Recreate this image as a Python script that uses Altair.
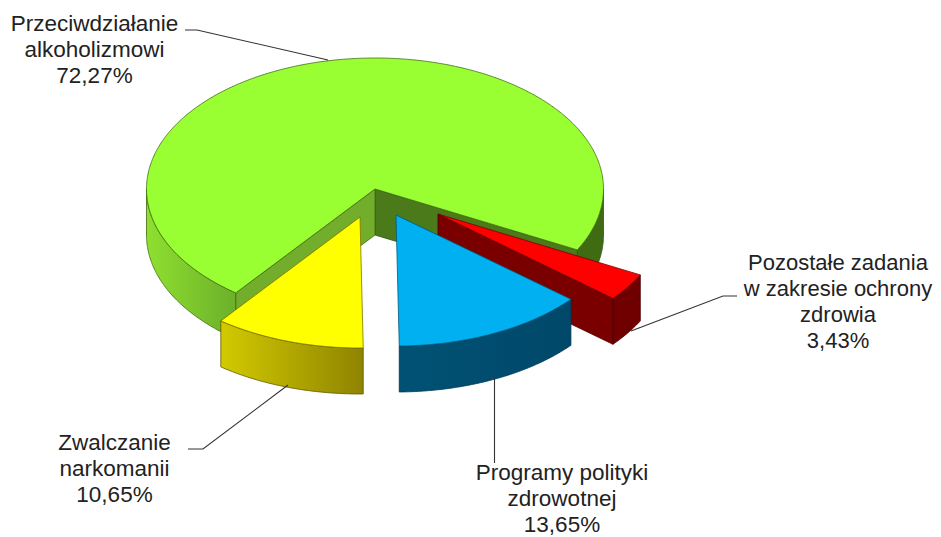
import math
import altair as alt

# Data
categories = ["Przeciwdziałanie alkoholizmowi", "Pozostałe zadania w zakresie ochrony zdrowia",
              "Programy polityki zdrowotnej", "Zwalczanie narkomanii"]
shares = [72.27, 3.43, 13.65, 10.65]
label_lines = [
    ["Przeciwdziałanie", "alkoholizmowi", "72,27%"],
    ["Pozostałe zadania", "w zakresie ochrony", "zdrowia", "3,43%"],
    ["Programy polityki", "zdrowotnej", "13,65%"],
    ["Zwalczanie", "narkomanii", "10,65%"],
]

# Layout (page pixels)
RX, RY, DEPTH = 228.5, 131, 46
START = 27.7  # angle at which the red slice begins
CENTRES = {"red": (438, 214), "blue": (396, 215), "yellow": (360, 217), "green": (375, 189)}
LABEL_POS = [(94.5, 31), (838, 270), (562, 480), (114.5, 450)]
LABEL_SIZE = [22.5, 22, 22.5, 22.5]
LINE_H = 26
LEADERS = [
    [(185, 30), (197, 30), (328, 60)],
    [(737, 296), (723, 296), (631, 331)],
    [(494.5, 463), (494.5, 378)],
    [(188, 449), (203, 449), (288, 385)],
]


def pt(c, t, dy=0):
    return [c[0] + RX * math.cos(math.radians(t)), c[1] + RY * math.sin(math.radians(t)) + dy]


def arc(c, a, b, dy=0):
    n = max(2, int(abs(b - a)) * 2)
    return [pt(c, a + (b - a) * i / n, dy) for i in range(n + 1)]


def shape(coords, fill=None, stroke="#333333", sw=0.8):
    if fill is not None:
        geom = {"type": "Polygon", "coordinates": [coords + [coords[0]]]}
    else:
        geom = {"type": "LineString", "coordinates": coords}
    data = alt.InlineData(
        values={"type": "FeatureCollection",
                "features": [{"type": "Feature", "properties": {}, "geometry": geom}]},
        format=alt.DataFormat(property="features"),
    )
    kw = {"stroke": stroke, "strokeWidth": sw}
    if fill is None:
        kw["filled"] = False
        kw["fill"] = "transparent"
    else:
        kw["fill"] = fill
    return alt.Chart(data).mark_geoshape(**kw)


def top(c, a, b):
    return [list(c)] + arc(c, a, b)


def outer(c, a, b):
    return arc(c, a, b) + arc(c, b, a, DEPTH)


def inner(c, t):
    p = pt(c, t)
    return [list(c), p, [p[0], p[1] + DEPTH], [c[0], c[1] + DEPTH]]


def grad(a, b):
    return alt.Gradient(gradient="linear", x1=0, x2=1, y1=0, y2=0,
                        stops=[alt.GradientStop(color=a, offset=0), alt.GradientStop(color=b, offset=1)])


g_share, r_share, b_share, y_share = shares
r0 = START
r1 = r0 + r_share * 3.6
b1 = r1 + b_share * 3.6
y1 = b1 + y_share * 3.6
g1 = y1 + g_share * 3.6

G, R, B, Y = CENTRES["green"], CENTRES["red"], CENTRES["blue"], CENTRES["yellow"]
layers = [
    # green slice
    shape(outer(G, y1, 180), grad("#8fe030", "#6cb02a"), "#3f6b12"),
    shape(outer(G, 360, g1), "#3f6b12", "#2f5510"),
    shape(inner(G, r0), "#4a7a1a", "#2f5510"),
    shape(inner(G, y1), "#72ad2c", "#3f6b12"),
    shape(top(G, y1, g1), "#99ff33", "#3f6b12"),
    # red slice
    shape(inner(R, r1), "#7a0000", "#4a0000"),
    shape(outer(R, r0, r1), "#700000", "#4a0000"),
    shape(top(R, r0, r1), "#ff0000", "#7a0000"),
    # blue slice
    shape(outer(B, r1, b1), grad("#005274", "#00486a"), "#003850"),
    shape(top(B, r1, b1), "#00b0f0", "#005a82"),
    # yellow slice
    shape(outer(Y, b1, y1), grad("#d2ca00", "#8f8400"), "#5f5800"),
    shape(top(Y, b1, y1), "#ffff00", "#7a7400"),
]
for line in LEADERS:
    layers.append(shape([list(p) for p in line], None, "#333333", 1.1))

rows = []
for lines, (x, y), s in zip(label_lines, LABEL_POS, LABEL_SIZE):
    for i, text in enumerate(lines):
        rows.append({"x": x, "y": y + i * LINE_H, "t": text, "s": s})
layers.append(
    alt.Chart(alt.Data(values=rows))
    .mark_text(font="Liberation Sans", color="#222222", align="center", baseline="alphabetic")
    .encode(longitude="x:Q", latitude="y:Q", text="t:N", size=alt.Size("s:Q", scale=None, legend=None))
)

chart = (
    alt.layer(*layers)
    .project(type="identity", scale=1, translate=[-8, -8])
    .properties(width=925, height=529, padding=0, autosize=alt.AutoSizeParams(type="none"),
                background="white")
    .configure_view(stroke=None)
)
chart.save("out.html", embed_options={"renderer": "svg", "actions": False})
